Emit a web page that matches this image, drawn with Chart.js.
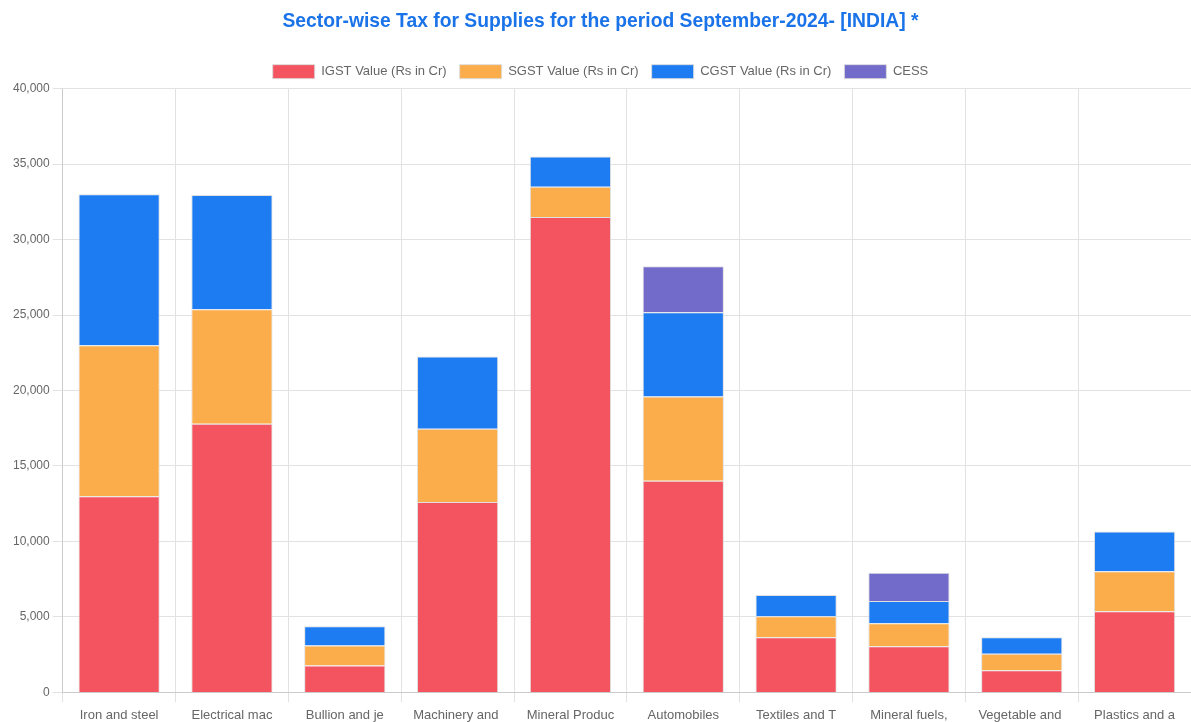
<!DOCTYPE html>
<html>
<head>
<meta charset="utf-8">
<title>Sector-wise Tax</title>
<script src="https://cdn.jsdelivr.net/npm/chart.js@4"></script>
<style>
    html, body { margin: 0; padding: 0; background: #fff; }
    #wrap { width: 1191px; height: 722px; }
</style>
</head>
<body>
<div id="wrap"><canvas id="taxChart"></canvas></div>
<script>
// sectors (labels already cut to 14 chars)
const sectors = ['Iron and steel', 'Electrical mac', 'Bullion and je', 'Machinery and ', 'Mineral Produc',
    'Automobiles', 'Textiles and T', 'Mineral fuels,', 'Vegetable and ', 'Plastics and a'];

// values in Rs Cr
const igst = [13000, 17800, 1790, 12620, 31500, 14020, 3650, 3060, 1460, 5380];
const sgst = [10000, 7580, 1320, 4840, 2000, 5580, 1400, 1520, 1100, 2650];
const cgst = [10000, 7580, 1280, 4800, 2000, 5580, 1400, 1480, 1100, 2630];
const cess = [0, 0, 0, 0, 0, 3060, 0, 1860, 0, 0];

const yTicks = { min: 0, max: 40000, step: 5000 };

document.addEventListener("DOMContentLoaded", () => {
    const ctx = document.getElementById('taxChart').getContext('2d');
    Chart.defaults.font.family = "'Liberation Sans', Arial, sans-serif";
    Chart.defaults.color = '#666';

    const makeSet = (label, data, color) => ({
        label: label,
        data: data,
        backgroundColor: color,
        borderColor: 'rgba(220,220,220,0.9)',
        borderWidth: 1,
    });

    new Chart(ctx, {
        type: 'bar',
        data: {
            labels: sectors,
            datasets: [
                makeSet('IGST Value (Rs in Cr)', igst, '#f3545f'),
                makeSet('SGST Value (Rs in Cr)', sgst, '#fcad4b'),
                makeSet('CGST Value (Rs in Cr)', cgst, '#1e7cf2'),
                makeSet('CESS', cess, '#736bca'),
            ],
        },
        options: {
            responsive: true,
            maintainAspectRatio: false,
            animation: false,
            layout: { padding: { left: 10, right: 0, top: 0, bottom: -6 } },
            plugins: {
                title: {
                    display: true,
                    text: 'Sector-wise Tax for Supplies for the period September-2024- [INDIA] *',
                    color: '#1a73e8',
                    font: { size: 19.3, weight: 'bold' },
                    padding: { top: 10, bottom: 18.5 },
                },
                legend: {
                    position: 'top',
                    labels: {
                        boxWidth: 42,
                        boxHeight: 14,
                        padding: 13,
                        font: { size: 13 },
                        color: '#666',
                    },
                },
                tooltip: { enabled: true },
            },
            scales: {
                x: {
                    stacked: true,
                    grid: { color: '#e2e2e2', offset: true, tickLength: 10 },
                    ticks: { font: { size: 13 }, padding: 5, maxRotation: 0, autoSkip: false },
                },
                y: {
                    stacked: true,
                    min: yTicks.min,
                    max: yTicks.max,
                    grid: { color: '#e2e2e2', tickLength: 10 },
                    ticks: {
                        stepSize: yTicks.step,
                        font: { size: 12 },
                        padding: 3,
                        callback: (value) => value.toLocaleString('en-US'),
                    },
                },
            },
        },
    });
});
</script>
</body>
</html>
